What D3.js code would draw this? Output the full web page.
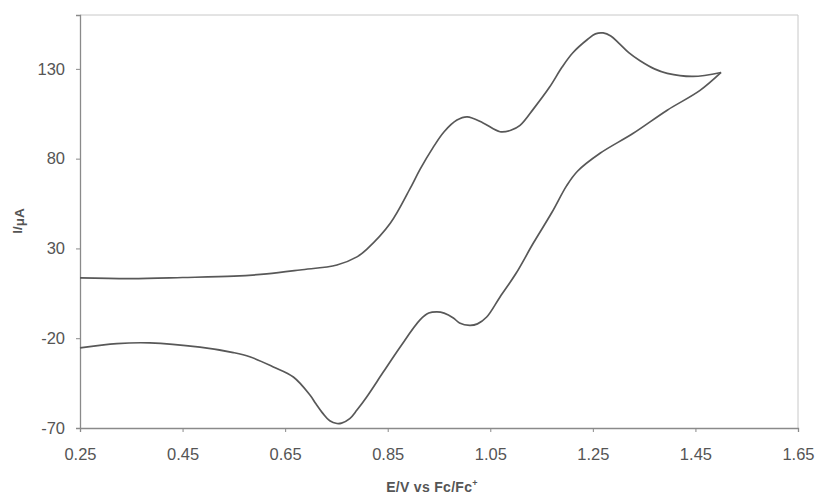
<!DOCTYPE html>
<html><head><meta charset="utf-8">
<script src="https://cdn.jsdelivr.net/npm/d3@7"></script>
<style>body{margin:0;background:#fff}svg{display:block}</style>
</head><body>
<svg id="c" width="818" height="495"></svg>
<script>
// Forward (anodic) scan
const forwardE = [0.25,0.35,0.45,0.55,0.614,0.679,0.751,0.79,0.809,0.855,0.893,0.913,0.938,0.96,0.985,1.005,1.036,1.069,1.09,1.108,1.135,1.166,1.19,1.211,1.24,1.255,1.27,1.285,1.30,1.32,1.342,1.37,1.395,1.445,1.50];
const forwardI = [13.6,13.2,13.8,14.6,15.8,18,20.8,25.3,29.5,44,63,74,86,95,101.5,103.3,99.9,95,95.8,98.5,108,120,131,139,146.5,149.5,150,148.3,144.5,139,134.5,130,127.5,125.8,128];
// Reverse (cathodic) scan, listed from the switching potential back to 0.25 V
const reverseE = [1.50,1.459,1.395,1.328,1.264,1.22,1.199,1.17,1.134,1.10,1.069,1.043,1.025,1.01,0.99,0.978,0.96,0.946,0.93,0.913,0.874,0.841,0.809,0.79,0.776,0.76,0.751,0.737,0.724,0.71,0.698,0.666,0.627,0.581,0.549,0.484,0.386,0.322,0.25];
const reverseI = [128,118,107,94,83,73,65,50,33,16,3,-8.2,-12,-12.8,-11.5,-8.7,-6,-5.3,-6,-9.8,-25,-39,-52.7,-60,-64.8,-67.3,-67.5,-66,-62,-56.5,-51.5,-41.6,-36,-30.3,-28,-25,-22.6,-23,-25.4];
const xTicks = [0.25,0.45,0.65,0.85,1.05,1.25,1.45,1.65];
const yTicks = [-70,-20,30,80,130];
const xDomain = [0.25,1.65];
const yDomain = [-70,160];

const svg = d3.select('#c');
const m = {l:80, r:20, t:15, b:67};
const W = 818, H = 495;
const x = d3.scaleLinear().domain(xDomain).range([m.l, W-m.r]);
const y = d3.scaleLinear().domain(yDomain).range([H-m.b, m.t]);
const FONT = '"Liberation Sans", Arial, sans-serif';

// frame (top/right light)
svg.append('line').attr('x1',x(xDomain[0])).attr('x2',x(xDomain[1])).attr('y1',y(yDomain[1])).attr('y2',y(yDomain[1])).attr('stroke','#c8c8c8').attr('stroke-width',1);
svg.append('line').attr('x1',x(xDomain[1])).attr('x2',x(xDomain[1])).attr('y1',y(yDomain[0])).attr('y2',y(yDomain[1])).attr('stroke','#c8c8c8').attr('stroke-width',1);

const fmtX = d3.format('.2f');
const xAxis = svg.append('g').attr('transform',`translate(0,${y(yDomain[0])})`)
  .call(d3.axisBottom(x).tickValues(xTicks).tickFormat(fmtX).tickSize(4).tickPadding(16));
const yAxis = svg.append('g').attr('transform',`translate(${x(xDomain[0])},0)`)
  .call(d3.axisLeft(y).tickValues(yTicks).tickFormat(d=>String(d)).tickSize(4).tickPadding(11));
[xAxis,yAxis].forEach(a=>{
  a.select('.domain').attr('stroke','#8a8a8a').attr('stroke-width',1.3);
  a.selectAll('.tick line').attr('stroke','#8a8a8a');
  a.selectAll('.tick text').attr('fill','#555').style('font-family',FONT).style('font-size','16.5px');
});

const line = d3.line().x(d=>x(d[0])).y(d=>y(d[1])).curve(d3.curveCatmullRom.alpha(0.5));
const fwd = forwardE.map((e,i)=>[e,forwardI[i]]);
const rev = reverseE.map((e,i)=>[e,reverseI[i]]);
[fwd,rev].forEach(d=>{
  svg.append('path').datum(d).attr('d',line).attr('fill','none').attr('stroke','#585858').attr('stroke-width',1.7).attr('stroke-linejoin','round');
});

// axis titles
const xt = svg.append('text').attr('x',432).attr('y',492).attr('text-anchor','middle')
  .style('font-family',FONT).style('font-size','14px').style('font-weight','bold').style('letter-spacing','0.3px').attr('fill','#555');
xt.append('tspan').text('E/V vs Fc/Fc');
xt.append('tspan').attr('dy',-6).style('font-size','9px').text('+');
const yt = svg.append('text').attr('transform','translate(22,221) rotate(-90)').attr('text-anchor','middle')
  .style('font-family',FONT).style('font-size','13.5px').style('font-weight','bold').attr('fill','#555');
yt.append('tspan').text('I/');
yt.append('tspan').attr('dy',1.5).text('μA');
</script>
</body></html>
